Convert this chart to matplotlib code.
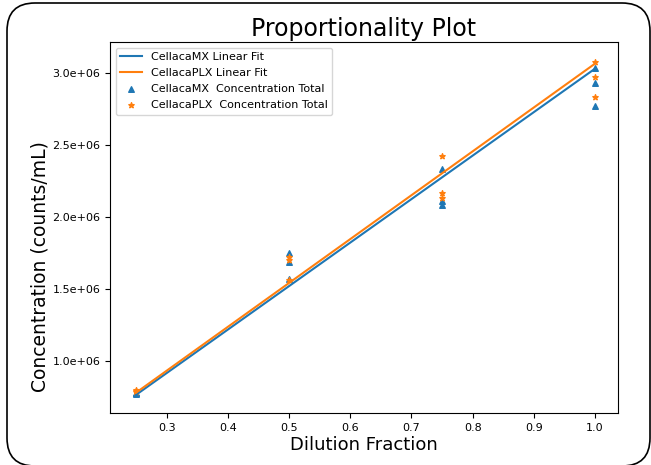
import matplotlib
matplotlib.use('Agg')
import matplotlib.pyplot as plt
from matplotlib.patches import FancyBboxPatch
from matplotlib.ticker import FormatStrFormatter

# dilution fractions, three replicate counts each
dilution = [0.25, 0.25, 0.25, 0.5, 0.5, 0.5, 0.75, 0.75, 0.75, 1.0, 1.0, 1.0]
mx_conc = [0.78e6, 0.775e6, 0.77e6, 1.75e6, 1.69e6, 1.57e6,
           2.33e6, 2.11e6, 2.08e6, 3.035e6, 2.93e6, 2.77e6]
plx_conc = [0.80e6, 0.79e6, 0.785e6, 1.72e6, 1.70e6, 1.56e6,
            2.42e6, 2.17e6, 2.13e6, 3.075e6, 2.975e6, 2.835e6]

# linear fit lines
fit_x = [0.25, 1.0]
mx_fit = [0.765e6, 3.03e6]
plx_fit = [0.78e6, 3.065e6]

fig = plt.figure(figsize=(6.51, 4.65), dpi=100)

# rounded slide frame
bg = fig.add_axes([0, 0, 1, 1], zorder=-1)
bg.set_xlim(0, 651)
bg.set_ylim(0, 465)
bg.axis('off')
bg.add_patch(FancyBboxPatch((7, -1), 643, 463, boxstyle='round,pad=0,rounding_size=28',
                            fill=False, edgecolor='black', linewidth=1.2))

ax = fig.add_axes([110 / 651, 52 / 465, 508 / 651, 371 / 465])
ax.plot(fit_x, mx_fit, label='CellacaMX Linear Fit', color='tab:blue')
ax.plot(fit_x, plx_fit, label='CellacaPLX Linear Fit', color='tab:orange')
ax.scatter(dilution, mx_conc, marker='^', s=16, color='tab:blue',
           label='CellacaMX  Concentration Total')
ax.scatter(dilution, plx_conc, marker='*', s=16, color='tab:orange',
           label='CellacaPLX  Concentration Total')

ax.set_xlim(0.2075, 1.0375)
ax.set_ylim(0.639e6, 3.215e6)
ax.set_xticks([0.3, 0.4, 0.5, 0.6, 0.7, 0.8, 0.9, 1.0])
ax.set_yticks([1.0e6, 1.5e6, 2.0e6, 2.5e6, 3.0e6])
ax.yaxis.set_major_formatter(FormatStrFormatter('%.1e'))
ax.tick_params(labelsize=8)

ax.set_title('Proportionality Plot', fontsize=17, pad=4)
ax.set_xlabel('Dilution Fraction', fontsize=13, labelpad=2)
ax.set_ylabel('Concentration (counts/mL)', fontsize=13.5)
ax.yaxis.set_label_coords(-0.12, 0.394)
ax.legend(loc='upper left', fontsize=8, labelspacing=0.55)

fig.savefig('out.png', dpi=100)
